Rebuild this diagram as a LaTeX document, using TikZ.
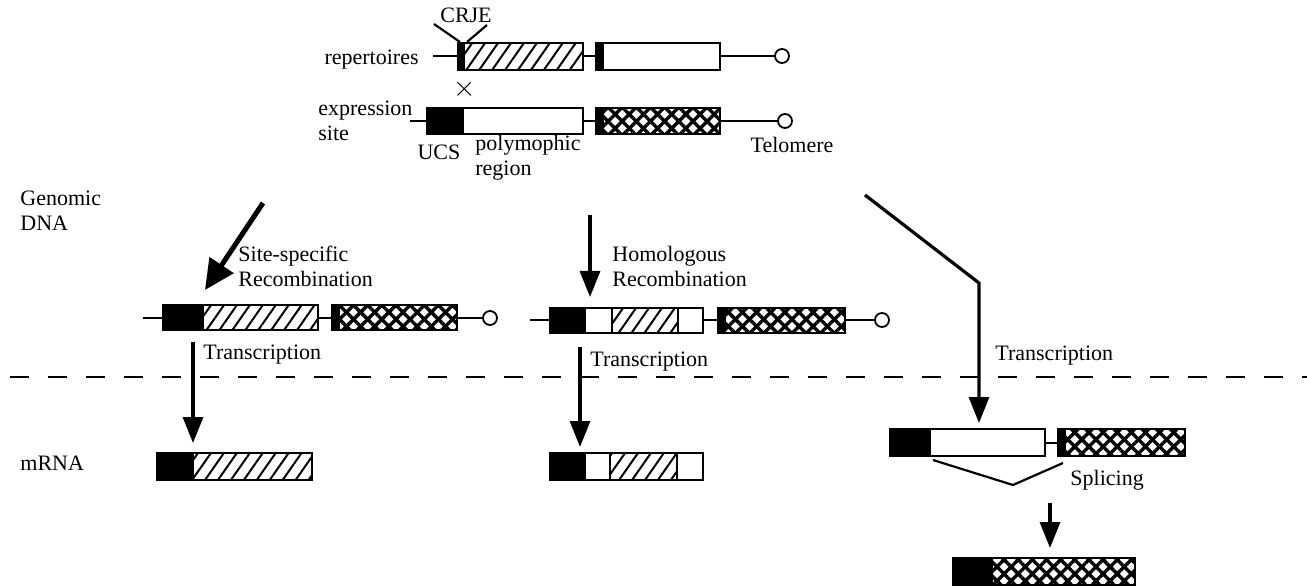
\documentclass[tikz,border=0pt]{standalone}
\usepackage{fontspec}
\setmainfont{Liberation Serif}
\usetikzlibrary{patterns.meta,arrows.meta}
\tikzset{
  lbl/.style={inner sep=0pt, font=\fontsize{11}{12.5}\selectfont, align=left},
  thinln/.style={line width=0.9pt},
  arr/.style={line width=1.6pt, -{Triangle[width=10pt,length=13pt]}},
  arrthick/.style={line width=2.5pt, -{Triangle[width=14pt,length=15pt]}},
  telo/.style={line width=0.9pt, fill=white},
}
\newcommand\mkblk[2]{\draw[line width=1.1pt, fill=black] #1 rectangle #2;}
\newcommand\mkwhite[2]{\draw[line width=1.1pt, fill=white] #1 rectangle #2;}
\newcommand\mkhatch[2]{\fill[white] #1 rectangle #2;
  \fill[pattern={Lines[angle=55,distance=5.3pt,line width=1pt]}] #1 rectangle #2;
  \draw[line width=1.1pt] #1 rectangle #2;}
\newcommand\mkcross[2]{\fill[white] #1 rectangle #2;
  \fill[pattern={Lines[angle=45,distance=5pt,line width=1.7pt]}] #1 rectangle #2;
  \fill[pattern={Lines[angle=-45,distance=5pt,line width=1.7pt]}] #1 rectangle #2;
  \draw[line width=1.3pt] #1 rectangle #2;}
\begin{document}
\begin{tikzpicture}[x=0.5pt,y=-0.5pt]
\useasboundingbox (0,0) rectangle (1307,588);

% ---------- top: repertoires ----------
\draw[thinln] (433,56) -- (458,56);
\mkhatch{(464,43)}{(583,70)}
\mkblk{(458,43)}{(464,70)}
\draw[thinln] (583,56) -- (596,56);
\mkwhite{(603,43)}{(720,70)}
\mkblk{(596,43)}{(603,70)}
\draw[thinln] (720,56) -- (775,56);
\draw[telo] (782,56) circle[radius=3.5pt];
\coordinate (c1a) at (434,24); \coordinate (c1b) at (460,42);
\coordinate (c2a) at (487,25); \coordinate (c2b) at (467,42);
\draw[line width=1.1pt] (c1a) -- (c1b);
\draw[line width=1.1pt] (c2a) -- (c2b);
\node[lbl] (crje) at (466,15) {CRJE};
\node[lbl, anchor=east] (rep) at (419,60) {repertoires};
\node[lbl, font=\fontsize{15}{15}\selectfont] (cross) at (465,89) {$\times$};

% ---------- top: expression site ----------
\draw[thinln] (410,121) -- (427,121);
\mkwhite{(463,108)}{(583,134)}
\mkblk{(427,108)}{(463,134)}
\draw[thinln] (583,121) -- (596,121);
\mkcross{(603,108)}{(720,134)}
\mkblk{(596,108)}{(603,134)}
\draw[thinln] (720,121) -- (778,121);
\draw[telo] (785,121) circle[radius=3.5pt];
\node[lbl, anchor=west] (exs) at (318,121) {expression\\site};
\node[lbl] (ucs) at (439,152) {UCS};
\node[lbl, anchor=west] (poly) at (475,158) {polymophic\\region};
\node[lbl] (telom) at (792,145) {Telomere};

% ---------- left labels ----------
\node[lbl, anchor=west] (gdna) at (20,211) {Genomic\\DNA};
\node[lbl, anchor=west] (mrna) at (20,463) {mRNA};

% ---------- arrows from top ----------
\coordinate (ssA) at (263,203); \coordinate (ssB) at (205,290);
\draw[arrthick] (ssA) -- (ssB);
\node[lbl, anchor=west] (ssl) at (238,266) {Site-specific\\Recombination};

\coordinate (hrA) at (590,215); \coordinate (hrB) at (590,297);
\draw[arr] (hrA) -- (hrB);
\node[lbl, anchor=west] (hrl) at (612,266) {Homologous\\Recombination};

\coordinate (trA) at (865,195); \coordinate (trK) at (979,283); \coordinate (trB) at (979,423);
\draw[arr] (trA) -- (trK) -- (trB);
\node[lbl, anchor=west] (trl3) at (995,356) {Transcription};

% ---------- middle row: site-specific product ----------
\draw[thinln] (143,318) -- (163,318);
\mkhatch{(203,305)}{(318,330)}
\mkblk{(163,305)}{(203,330)}
\draw[thinln] (318,318) -- (332,318);
\mkcross{(339,305)}{(457,330)}
\mkblk{(332,305)}{(339,330)}
\draw[thinln] (457,318) -- (483,318);
\draw[telo] (490,318) circle[radius=3.5pt];

% ---------- middle row: homologous product ----------
\draw[thinln] (530,320) -- (550,320);
\mkwhite{(585,308)}{(612,333)}
\mkhatch{(612,308)}{(678,333)}
\mkwhite{(678,308)}{(703,333)}
\mkblk{(550,308)}{(585,333)}
\draw[thinln] (703,320) -- (718,320);
\mkcross{(725,308)}{(845,333)}
\mkblk{(718,308)}{(725,333)}
\draw[thinln] (845,320) -- (875,320);
\draw[telo] (882,320) circle[radius=3.5pt];

% ---------- transcription arrows ----------
\coordinate (t1A) at (193,342); \coordinate (t1B) at (193,443);
\draw[arr] (t1A) -- (t1B);
\node[lbl, anchor=west] (trl1) at (203,355) {Transcription};
\coordinate (t2A) at (580,347); \coordinate (t2B) at (580,447);
\draw[arr] (t2A) -- (t2B);
\node[lbl, anchor=west] (trl2) at (590,362) {Transcription};

% ---------- dashed separator ----------
\coordinate (dsA) at (10,377); \coordinate (dsB) at (1307,377);
\draw[line width=1.2pt, dash pattern=on 9.5pt off 9.5pt] (dsA) -- (dsB);

% ---------- mRNA ----------
\mkhatch{(193,453)}{(312,480)}
\mkblk{(157,453)}{(193,480)}

\mkwhite{(585,453)}{(610,480)}
\mkhatch{(610,453)}{(677,480)}
\mkwhite{(677,453)}{(703,480)}
\mkblk{(550,453)}{(585,480)}

\mkwhite{(930,429)}{(1045,456)}
\mkblk{(890,429)}{(930,456)}
\draw[thinln] (1045,443) -- (1058,443);
\mkcross{(1065,429)}{(1185,456)}
\mkblk{(1058,429)}{(1065,456)}

\coordinate (spA) at (933,460); \coordinate (spM) at (1013,485); \coordinate (spB) at (1063,463);
\draw[line width=1.1pt] (spA) -- (spM) -- (spB);
\node[lbl, anchor=west] (spl) at (1070,480) {Splicing};

\coordinate (s4A) at (1050,503); \coordinate (s4B) at (1050,548);
\draw[arr] (s4A) -- (s4B);

\mkcross{(992,558)}{(1135,585)}
\mkblk{(953,558)}{(992,585)}
\end{tikzpicture}
\end{document}
